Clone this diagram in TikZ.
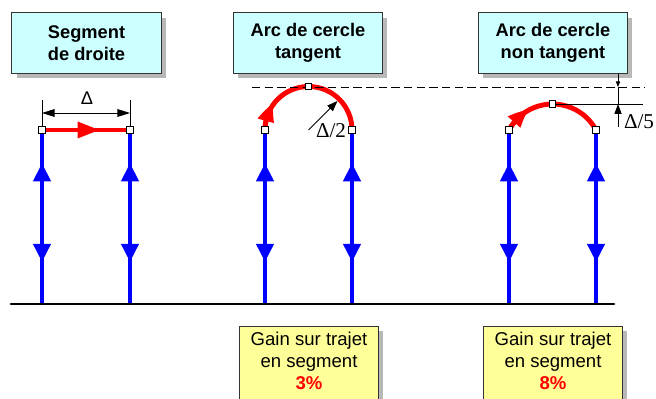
\documentclass[tikz,border=0pt]{standalone}
\usepackage{fontspec}
\setmainfont{Liberation Sans}
\newfontfamily\timesfont{Liberation Serif}
\usetikzlibrary{arrows.meta,bending,decorations.markings,shadows}
\definecolor{boxcyan}{HTML}{CCFFFF}
\definecolor{boxyellow}{HTML}{FFFF99}

\begin{document}
\begin{tikzpicture}[x=0.025cm, y=0.025cm,
	titlebox/.style={rectangle, draw=black!80, line width=0.7pt, fill=boxcyan, minimum width=3.725cm, minimum height=1.5cm, align=center, font=\bfseries\fontsize{13}{15.5}\selectfont, drop shadow={shadow xshift=3.5pt, shadow yshift=-3.5pt, fill=black!28, opacity=1}},
	gainbox/.style={rectangle, draw=black!80, line width=0.7pt, fill=boxyellow, minimum width=3.45cm, minimum height=2cm, anchor=north, drop shadow={shadow xshift=3.5pt, shadow yshift=-3.5pt, fill=black!28, opacity=1}},
	gaintext/.style={align=center, font=\fontsize{13.2}{15.8}\selectfont},
	pt/.style={rectangle, draw=black, fill=white, line width=0.5pt, minimum size=4.5pt, inner sep=0pt},
	bluepath/.style={blue, line width=3.5pt, postaction={decorate}, decoration={markings,
		mark=at position 0.241 with {\arrowreversed{Triangle[length=13pt,width=12pt]}},
		mark=at position 0.81 with {\arrow{Triangle[length=13pt,width=12pt]}}}},
	redpath/.style={red, line width=3.5pt},
	redtip/.style={red, line width=3.5pt, -{Triangle[length=14pt,width=11pt,bend]}},
	dimline/.style={black, line width=0.6pt},
	ground/.style={black, line width=2pt, line cap=round}]
	\useasboundingbox (0,0) rectangle (656,399);

	\node[titlebox] (seg) at (86.5,356) {Segment\\de droite};
	\node[titlebox] (tang) at (308,356) {Arc de cercle\\tangent};
	\node[titlebox] (ntang) at (553,356) {Arc de cercle\\non tangent};

	\coordinate (g1) at (42,95);
	\coordinate (g2) at (130,95);
	\coordinate (g3) at (265,95);
	\coordinate (g4) at (352,95);
	\coordinate (g5) at (509,95);
	\coordinate (g6) at (596,95);
	\coordinate (p1) at (42,269);
	\coordinate (p2) at (130,269);
	\coordinate (p3) at (265,269);
	\coordinate (p4) at (352,269);
	\coordinate (p5) at (509,269);
	\coordinate (p6) at (596,269);
	\coordinate (top3) at (308.5,312.5);
	\coordinate (top5) at (552.5,295);
	\coordinate (m1) at (100,269);

	\draw[bluepath] (g1) -- (p1);
	\draw[bluepath] (g2) -- (p2);
	\draw[bluepath] (g3) -- (p3);
	\draw[bluepath] (g4) -- (p4);
	\draw[bluepath] (g5) -- (p5);
	\draw[bluepath] (g6) -- (p6);

	\coordinate (gl) at (11,95);
	\coordinate (gr) at (614,95);
	\draw[ground] (gl) -- (gr);

	\draw[redpath] (p1) -- (p2);
	\draw[redtip, -{Triangle[length=16pt,width=11pt]}] (p1) -- (m1);
	\draw[redpath] (p3) arc[start angle=180, end angle=0, radius=43.5];
	\draw[redtip] (p3) arc[start angle=180, end angle=142, radius=43.5];
	\draw[redpath] (p5) arc[start angle=151.7, end angle=28.3, radius=49.4];
	\draw[redtip] (p5) arc[start angle=151.7, end angle=118, radius=49.4];

	% cotes
	\coordinate (e1) at (42,299);
	\coordinate (e2) at (130,299);
	\coordinate (d1) at (42,286);
	\coordinate (d2) at (130,286);
	\draw[dimline] (e1) -- (p1);
	\draw[dimline] (e2) -- (p2);
	\draw[dimline, {Triangle[length=9pt,width=5.5pt]}-{Triangle[length=9pt,width=5.5pt]}] (d1) -- (d2);
	\node[font=\fontsize{13}{15}\selectfont] (delta) at (87,301) {Δ};

	\coordinate (k1) at (252,312);
	\coordinate (k2) at (645,312);
	\draw[dimline, dash pattern=on 6pt off 3pt] (k1) -- (k2);

	\coordinate (c3) at (308.5,269);
	\coordinate (r3) at (337.5,298);
	\draw[dimline, -{Triangle[length=7.5pt,width=5.5pt]}] (c3) -- (r3);
	\node[font=\timesfont\fontsize{15}{17}\selectfont] (half) at (331,268) {Δ/2};

	\coordinate (h5) at (643,295);
	\coordinate (f1) at (618,325);
	\coordinate (f2) at (618,312);
	\coordinate (f3) at (618,295);
	\coordinate (f4) at (618,272);
	\draw[dimline] (top5) -- (h5);
	\draw[dimline, -{Triangle[length=4pt,width=3pt]}] (f1) -- (f2);
	\draw[dimline] (f2) -- (f3);
	\draw[dimline, -{Triangle[length=7pt,width=5pt]}] (f4) -- (f3);
	\node[font=\timesfont\fontsize{15}{17}\selectfont] (fifth) at (639,277) {Δ/5};

	\node[pt] (s1) at (p1) {};
	\node[pt] (s2) at (p2) {};
	\node[pt] (s3) at (p3) {};
	\node[pt] (s4) at (p4) {};
	\node[pt] (s5) at (p5) {};
	\node[pt] (s6) at (p6) {};
	\node[pt] (s7) at (top3) {};
	\node[pt] (s8) at (top5) {};

	\node[gainbox] (gain1) at (309,73) {};
	\node[gainbox] (gain2) at (553,73) {};
	\node[gaintext] (gaintxt1) at (309,38) {Gain sur trajet\\en segment\\{\color{red}\bfseries 3\%}};
	\node[gaintext] (gaintxt2) at (553,38) {Gain sur trajet\\en segment\\{\color{red}\bfseries 8\%}};
\end{tikzpicture}
\end{document}
